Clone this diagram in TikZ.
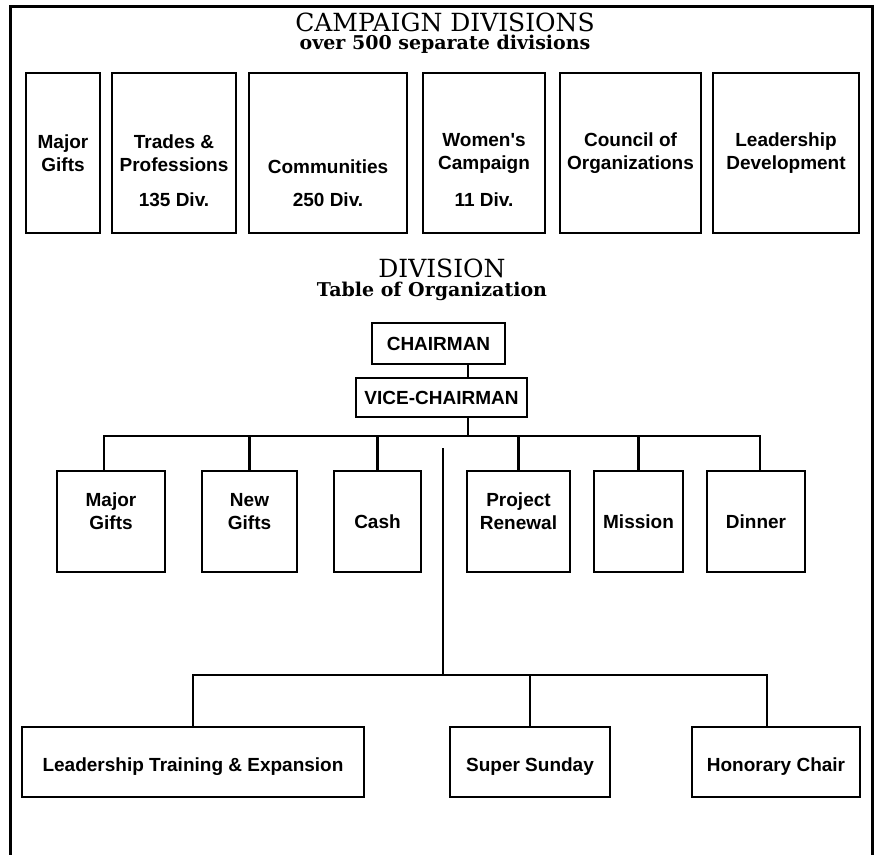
\documentclass[tikz,border=0pt]{standalone}
\usepackage{fontspec}
\setmainfont{DejaVu Serif}
\newfontfamily\orgsans{Liberation Sans}

\begin{document}
\begin{tikzpicture}[
    x=0.5pt, y=-0.5pt,
    frame/.style={line width=1.5pt},
    box/.style={draw, line width=1.4pt, inner sep=0pt, align=center,
                font=\orgsans\bfseries\fontsize{9.5}{11.5}\selectfont},
    topbox/.style={box, minimum height=80pt},
    subbox/.style={box, minimum height=50.5pt},
    lowbox/.style={box, minimum height=35pt},
    headbox/.style={box, minimum height=20.5pt},
    txt/.style={font=\orgsans\bfseries\fontsize{9.5}{11.5}\selectfont, align=center, inner sep=0pt},
    title/.style={font=\fontsize{12.5}{14}\selectfont, inner sep=0pt, anchor=base},
    subtitle/.style={font=\bfseries\fontsize{9.5}{11}\selectfont, inner sep=0pt, anchor=base},
    link/.style={line width=1.3pt},
]
\useasboundingbox (0,0) rectangle (877,855);

% outer frame, open at the bottom
\draw[frame] (10,855) -- (10,7) -- (872,7) -- (872,855);

% campaign divisions
\node[title] (camp) at (445,32) {CAMPAIGN DIVISIONS};
\node[subtitle] (camp-sub) at (445,50) {over 500 separate divisions};

\node[topbox, minimum width=37pt] (tmaj) at (63,153) {Major\\Gifts};
\node[topbox, minimum width=62pt] (ttrd) at (174,153) {Trades \&\\Professions};
\node[topbox, minimum width=79pt, label={[txt, yshift=-7pt]center:Communities}] (tcom) at (328,153) {};
\node[topbox, minimum width=61pt] (twom) at (484,153) {Women's\\Campaign};
\node[topbox, minimum width=70.5pt] (tcou) at (630.5,153) {Council of\\Organizations};
\node[topbox, minimum width=73pt] (tlea) at (786,153) {Leadership\\Development};

\coordinate (divrow) at (0,200);
\node[txt] (ttrd-div) at (ttrd |- divrow) {135 Div.};
\node[txt] (tcom-div) at (tcom |- divrow) {250 Div.};
\node[txt] (twom-div) at (twom |- divrow) {11 Div.};

% division table of organization
\node[title] (div) at (442,278) {DIVISION};
\node[subtitle] (div-sub) at (432,297) {Table of Organization};

\node[headbox, minimum width=66.5pt] (chair) at (438.5,343.5) {CHAIRMAN};
\node[headbox, minimum width=85.5pt, minimum height=19.5pt] (vice) at (441.5,397.5) {VICE-CHAIRMAN};

\node[subbox, minimum width=54pt, label={[txt, yshift=5pt]center:{Major\\Gifts}}] (smaj) at (111,521.5) {};
\node[subbox, minimum width=47.5pt, label={[txt, yshift=5pt]center:{New\\Gifts}}] (snew) at (249.5,521.5) {};
\node[subbox, minimum width=43.5pt] (scash) at (377.5,521.5) {Cash};
\node[subbox, minimum width=51.5pt, label={[txt, yshift=5pt]center:{Project\\Renewal}}] (sproj) at (518.5,521.5) {};
\node[subbox, minimum width=44.5pt] (smis) at (638.5,521.5) {Mission};
\node[subbox, minimum width=49pt] (sdin) at (756,521.5) {Dinner};

\node[lowbox, minimum width=171pt, label={[txt, yshift=-2.5pt]center:Leadership Training \& Expansion}] (llead) at (193,762) {};
\node[lowbox, minimum width=80pt, label={[txt, yshift=-2.5pt]center:Super Sunday}] (lsup) at (530,762) {};
\node[lowbox, minimum width=84pt, label={[txt, yshift=-2.5pt]center:Honorary Chair}] (lhon) at (776,762) {};

\coordinate (trunk) at (468,436);
\coordinate (ubarL) at (104,436);
\coordinate (ubarR) at (760,436);
\coordinate (stem) at (443,448);
\coordinate (lbarL) at (194,675);
\coordinate (lbarR) at (767,675);

\draw[link] (chair.south -| trunk) -- (vice.north -| trunk);
\draw[link] (vice.south -| trunk) -- (trunk);
\draw[link] (ubarL |- smaj.north) -- (ubarL) -- (ubarR) -- (ubarR |- sdin.north);
\foreach \n in {snew, scash, sproj, smis}{
    \draw[link] (\n.north |- ubarL) -- (\n.north);
}
\draw[link] (stem) -- (stem |- lbarL);
\draw[link] (llead.north) |- (lbarR) -- (lbarR |- lhon.north);
\draw[link] (lsup.north |- lbarL) -- (lsup.north);

\end{tikzpicture}
\end{document}
